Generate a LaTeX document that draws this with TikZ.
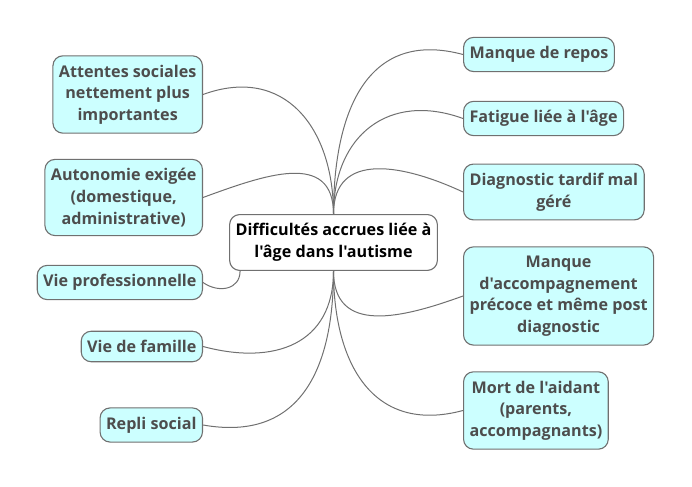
\documentclass[tikz,border=0pt]{standalone}
\usepackage{fontspec}
\setmainfont{Open Sans}[Ligatures=TeXOff]
\usepackage{xcolor}
\definecolor{leafFill}{HTML}{CCFFFF}
\definecolor{leafText}{HTML}{4D4D4D}
\definecolor{lineGray}{HTML}{707070}

\begin{document}
\begin{tikzpicture}[x=1bp, y=1bp]
        \tikzset{Leaf/.style={draw=lineGray, fill=leafFill, rounded corners=10bp,
                 line width=1.1bp, text=leafText, align=center,
                 font=\fontsize{16.2}{21.7}\selectfont\bfseries,
                 inner xsep=6bp, inner ysep=9bp}}
        \tikzset{Root/.style={Leaf, fill=white, text=black}}
        \tikzset{EdgeStyle/.style={draw=lineGray, line width=1bp, looseness=1.25}}   % branches

        \useasboundingbox (0,0) rectangle (692,487);

        \node[Root] (C) at (333.5,244.5) {Difficultés accrues liée à\\l'âge dans l'autisme};

        % right side
        \node[Leaf, anchor=west] (R1) at (463,432.5) {Manque de repos};
        \node[Leaf, anchor=west] (R2) at (463,368.5) {Fatigue liée à l'âge};
        \node[Leaf, anchor=west] (R3) at (463,295) {Diagnostic tardif mal\\géré};
        \node[Leaf, anchor=west] (R4) at (463,191) {Manque\\d'accompagnement\\précoce et même post\\diagnostic};
        \node[Leaf, anchor=west] (R5) at (463,76.5) {Mort de l'aidant\\(parents,\\accompagnants)};

        % left side
        \node[Leaf, anchor=east] (L1) at (203,392.5) {Attentes sociales\\nettement plus\\importantes};
        \node[Leaf, anchor=east] (L2) at (203,289.5) {Autonomie exigée\\(domestique,\\administrative)};
        \node[Leaf, anchor=east] (L3) at (203,204.5) {Vie professionnelle};
        \node[Leaf, anchor=east] (L4) at (203,140.5) {Vie de famille};
        \node[Leaf, anchor=east] (L5) at (203,62) {Repli social};

        \coordinate (P) at ([xshift=11bp]C.south west);

        \draw[EdgeStyle] (C.north) to[out=90, in=165] (R1.west);
        \draw[EdgeStyle] (C.north) to[out=90, in=160] (R2.west);
        \draw[EdgeStyle] (C.north) to[out=90, in=155] (R3.west);
        \draw[EdgeStyle] (C.south) to[out=-90, in=-160] (R4.west);
        \draw[EdgeStyle] (C.south) to[out=-90, in=-165] (R5.west);

        \draw[EdgeStyle] (L1.east) to[out=20, in=90] (C.north);
        \draw[EdgeStyle] (L2.east) to[out=20, in=90] (C.north);
        \draw[EdgeStyle] (L3.east) to[out=-35, in=-90] (P);
        \draw[EdgeStyle] (L4.east) to[out=-15, in=-90] (C.south);
        \draw[EdgeStyle] (L5.east) to[out=-10, in=-90] (C.south);

      \end{tikzpicture}
\end{document}
